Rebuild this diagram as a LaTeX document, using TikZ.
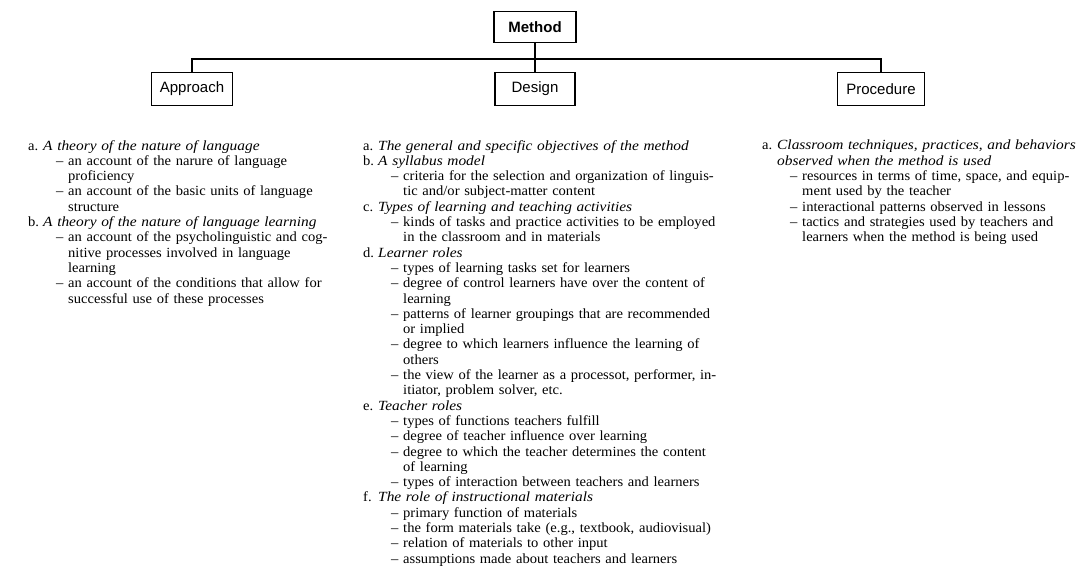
\documentclass[tikz,border=0pt]{standalone}
\usepackage{fontspec}
\setmainfont{Liberation Serif}[FakeStretch=1.04, ItalicFeatures={FakeStretch=1.10}]
\setsansfont{Liberation Sans}
\usepackage{tikz}
\usetikzlibrary{positioning}
\tikzstyle{block} = [rectangle, draw, line width=1.6pt, font=\sffamily\fontsize{15}{18}\selectfont, text centered, minimum height=33pt, inner xsep=6pt]
\tikzstyle{headblock} = [block, font=\sffamily\bfseries\fontsize{15}{18}\selectfont, minimum height=31pt]
\tikzstyle{column} = [anchor=north west, inner sep=0pt, text width=340pt, align=left, font=\fontsize{14}{15.3}\selectfont]
\tikzstyle{link} = [line width=1.1pt]
\newcommand{\itemline}[2]{\makebox[15pt][l]{#1}\textit{#2}}
\newcommand{\dashline}[1]{\hspace*{28pt}\makebox[12pt][l]{--}#1}
\newcommand{\contline}[1]{\hspace*{40pt}#1}
\begin{document}
\begin{tikzpicture}[x=1pt,y=-1pt]
    \useasboundingbox (0,0) rectangle (1078,565);
    \node [headblock, minimum width=82pt] (method) at (535,27) {Method};
    \node [block, minimum width=81pt] (approach) at (192,89) {Approach};
    \node [block, minimum width=80pt] (design) at (535,89) {Design};
    \node [block, minimum width=87pt] (procedure) at (881,89) {Procedure};
    \coordinate (junction) at (535,59);

    \draw[link] (method) -- (design);
    \draw[link] (approach.north) |- (junction) -| (procedure.north);

    % the three lists
    \node [column] (approachtext) at (28,140) {%
      \itemline{a.}{A theory of the nature of language}\\
      \dashline{an account of the narure of language}\\
      \contline{proficiency}\\
      \dashline{an account of the basic units of language}\\
      \contline{structure}\\
      \itemline{b.}{A theory of the nature of language learning}\\
      \dashline{an account of the psycholinguistic and cog-}\\
      \contline{nitive processes involved in language}\\
      \contline{learning}\\
      \dashline{an account of the conditions that allow for}\\
      \contline{successful use of these processes}};
    \node [column, text width=380pt] (designtext) at (363,140) {%
      \itemline{a.}{The general and specific objectives of the method}\\
      \itemline{b.}{A syllabus model}\\
      \dashline{criteria for the selection and organization of linguis-}\\
      \contline{tic and/or subject-matter content}\\
      \itemline{c.}{Types of learning and teaching activities}\\
      \dashline{kinds of tasks and practice activities to be employed}\\
      \contline{in the classroom and in materials}\\
      \itemline{d.}{Learner roles}\\
      \dashline{types of learning tasks set for learners}\\
      \dashline{degree of control learners have over the content of}\\
      \contline{learning}\\
      \dashline{patterns of learner groupings that are recommended}\\
      \contline{or implied}\\
      \dashline{degree to which learners influence the learning of}\\
      \contline{others}\\
      \dashline{the view of the learner as a processot, performer, in-}\\
      \contline{itiator, problem solver, etc.}\\
      \itemline{e.}{Teacher roles}\\
      \dashline{types of functions teachers fulfill}\\
      \dashline{degree of teacher influence over learning}\\
      \dashline{degree to which the teacher determines the content}\\
      \contline{of learning}\\
      \dashline{types of interaction between teachers and learners}\\
      \itemline{f.}{The role of instructional materials}\\
      \dashline{primary function of materials}\\
      \dashline{the form materials take (e.g., textbook, audiovisual)}\\
      \dashline{relation of materials to other input}\\
      \dashline{assumptions made about teachers and learners}};
    \node [column, text width=316pt] (proceduretext) at (762,140) {%
      \itemline{a.}{Classroom techniques, practices, and behaviors}\\
      \hspace*{15pt}\textit{observed when the method is used}\\
      \dashline{resources in terms of time, space, and equip-}\\
      \contline{ment used by the teacher}\\
      \dashline{interactional patterns observed in lessons}\\
      \dashline{tactics and strategies used by teachers and}\\
      \contline{learners when the method is being used}};
\end{tikzpicture}
\end{document}
